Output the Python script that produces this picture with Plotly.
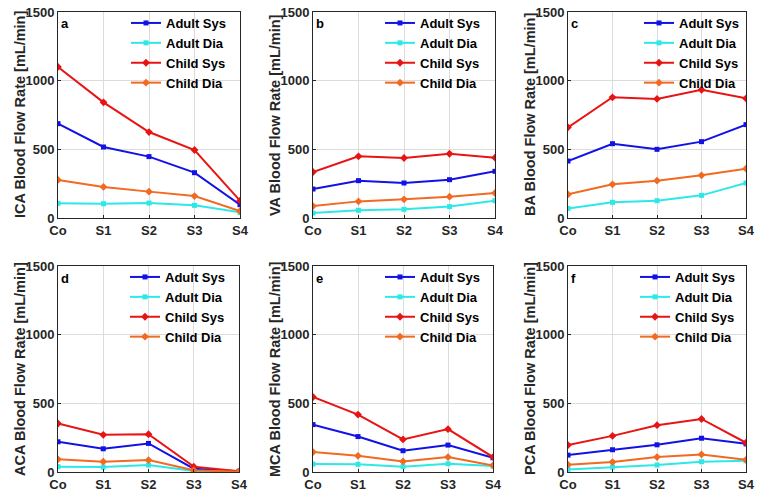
import plotly.graph_objects as go

W, H = 758, 496

categories = ["Co", "S1", "S2", "S3", "S4"]
series_names = ["Adult Sys", "Adult Dia", "Child Sys", "Child Dia"]
panel_letters = ["a", "b", "c", "d", "e", "f"]
vessels = ["ICA", "VA", "BA", "ACA", "MCA", "PCA"]

# values per panel: [Adult Sys, Adult Dia, Child Sys, Child Dia]
ica_adult_sys = [687, 517, 447, 330, 97]
ica_adult_dia = [107, 104, 109, 92, 41]
ica_child_sys = [1100, 842, 626, 495, 126]
ica_child_dia = [277, 226, 192, 160, 51]

va_adult_sys = [211, 272, 255, 279, 340]
va_adult_dia = [36, 56, 63, 83, 126]
va_child_sys = [335, 449, 437, 468, 439]
va_child_dia = [87, 121, 136, 155, 182]

ba_adult_sys = [415, 541, 500, 556, 680]
ba_adult_dia = [70, 114, 126, 165, 255]
ba_child_sys = [660, 879, 867, 934, 871]
ba_child_dia = [172, 245, 272, 311, 359]

aca_adult_sys = [220, 169, 208, 24, 5]
aca_adult_dia = [39, 36, 51, 7, 2]
aca_child_sys = [353, 271, 275, 39, 5]
aca_child_dia = [92, 75, 87, 12, 2]

mca_adult_sys = [345, 258, 155, 196, 104]
mca_adult_dia = [58, 56, 39, 60, 43]
mca_child_sys = [546, 418, 237, 312, 109]
mca_child_dia = [145, 118, 77, 109, 48]

pca_adult_sys = [123, 162, 198, 246, 205]
pca_adult_dia = [19, 36, 51, 75, 82]
pca_child_sys = [196, 263, 341, 386, 213]
pca_child_dia = [53, 72, 109, 128, 89]

panels = [
    [ica_adult_sys, ica_adult_dia, ica_child_sys, ica_child_dia],
    [va_adult_sys, va_adult_dia, va_child_sys, va_child_dia],
    [ba_adult_sys, ba_adult_dia, ba_child_sys, ba_child_dia],
    [aca_adult_sys, aca_adult_dia, aca_child_sys, aca_child_dia],
    [mca_adult_sys, mca_adult_dia, mca_child_sys, mca_child_dia],
    [pca_adult_sys, pca_adult_dia, pca_child_sys, pca_child_dia],
]

y_ticks = [0, 500, 1000, 1500]

colors = ["#1212E6", "#2EE8E8", "#E81414", "#F26A21"]
symbols = ["square", "square", "diamond", "diamond"]
msizes = [5, 5, 6, 6]

# pixel boxes in the window (left, right, top, bottom)
boxes = [
    (58, 240, 12, 218), (313, 495, 12, 218), (568, 746, 12, 218),
    (58, 239, 266, 472), (313, 493, 266, 472), (568, 746, 266, 472),
]
legend_text_x = [169, 423, 682, 168, 423, 678]
ytitle_x = [20, 275, 530, 20, 275, 530]

FONT = "Liberation Sans, Arial, sans-serif"


def px_x(px):
    return px / W


def px_y(py):
    return 1 - py / H


fig = go.Figure()
layout = {}
annotations = []
for i, (vals, box) in enumerate(zip(panels, boxes)):
    l, r, t, b = box
    n = "" if i == 0 else str(i + 1)
    xa, ya = "x" + n, "y" + n
    lg = "legend" + n
    for k, name in enumerate(series_names):
        fig.add_trace(go.Scatter(
            x=categories, y=vals[k], name=name, mode="lines+markers",
            line=dict(color=colors[k], width=2),
            marker=dict(symbol=symbols[k], size=msizes[k], color=colors[k]),
            xaxis=xa, yaxis=ya, legend=lg, showlegend=True,
        ))
    axis_common = dict(
        showline=True, linecolor="#262626", linewidth=1, mirror=True,
        showgrid=True, gridcolor="#DCDCDC", gridwidth=1, zeroline=False,
        ticks="inside", ticklen=3, tickcolor="#262626", automargin=False,
        ticklabeloverflow="allow",
        tickfont=dict(family=FONT, size=13, color="#262626", weight="bold"),
    )
    layout["xaxis" + n] = dict(
        axis_common, domain=[px_x(l), px_x(r)], anchor=ya,
        type="category", range=[0, 4],
    )
    layout["yaxis" + n] = dict(
        axis_common, domain=[px_y(b), px_y(t)], anchor=xa,
        range=[0, 1500], tickvals=y_ticks,
    )
    layout[lg] = dict(
        x=px_x(legend_text_x[i] - 43), y=px_y(t - 4),
        xanchor="left", yanchor="top", bgcolor="rgba(0,0,0,0)",
        font=dict(family=FONT, size=13, color="#000000", weight="bold"),
        itemwidth=30, tracegroupgap=0,
    )
    annotations.append(dict(
        text=panel_letters[i], x=px_x(l + 1), y=px_y(t + 12),
        xref="paper", yref="paper", xanchor="left", yanchor="middle",
        showarrow=False, font=dict(family=FONT, size=13, color="#000000", weight="bold"),
    ))
    annotations.append(dict(
        text=vessels[i] + " Blood Flow Rate [mL/min]", textangle=-90,
        x=px_x(ytitle_x[i]), y=px_y((t + b) / 2),
        xref="paper", yref="paper", xanchor="center", yanchor="middle",
        showarrow=False, font=dict(family=FONT, size=14.5, color="#262626", weight="bold"),
    ))

fig.update_layout(
    width=W, height=H, margin=dict(l=0, r=0, t=0, b=0, autoexpand=False),
    paper_bgcolor="white", plot_bgcolor="white",
    annotations=annotations, **layout,
)
fig.write_html(
    "out.html",
    config={"displayModeBar": False},
    post_script="document.body.style.margin='0';document.body.style.overflow='hidden';",
)
